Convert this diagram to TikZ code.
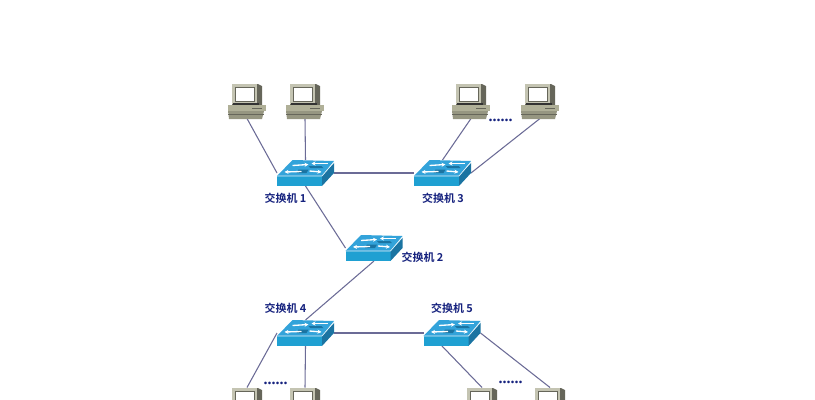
\documentclass[tikz,border=0pt]{standalone}
\usepackage{fontspec}
\usetikzlibrary{arrows.meta}
\newfontfamily\cjk{Noto Sans CJK SC}[BoldFont={Noto Sans CJK SC Bold}]
\setmainfont{Liberation Serif}
\definecolor{lbl}{HTML}{16227E}
\definecolor{wire}{HTML}{6B6B96}
\definecolor{swtop}{HTML}{33A3DA}
\definecolor{swfront}{HTML}{1FA0D2}
\definecolor{swside}{HTML}{1B74A2}
\definecolor{pcbody}{HTML}{B0B098}
\definecolor{pcdark}{HTML}{66665A}
\tikzset{
  x=0.75pt,y=-0.75pt,
  hub/.style={minimum width=42.75pt,minimum height=19.5pt,inner sep=0pt,outer sep=0pt},
  host/.style={minimum width=29.25pt,minimum height=26.25pt,inner sep=0pt,outer sep=0pt},
  wirel/.style={draw=wire,line width=0.8pt},
  lab/.style={text=lbl,font=\cjk\bfseries\fontsize{8.2pt}{9pt}\selectfont,inner sep=0pt},
  dots/.style={text=lbl,font=\bfseries\fontsize{12pt}{12pt}\selectfont,inner sep=0pt},
  flow/.style={white,line width=1pt,-{Stealth[length=3pt,width=3pt]}}
}
\newcommand{\hubdraw}[1]{%
  \begin{scope}[shift={(#1)}]
    \fill[swfront] (-28.5,3) -- (16.5,3) -- (16.5,13) -- (-28.5,13) -- cycle;
    \fill[swside] (16.5,3) -- (28.5,-10) -- (28.5,0) -- (16.5,13) -- cycle;
    \fill[swtop] (-28.5,3) -- (-13,-13) -- (28.5,-12) -- (16.5,3) -- cycle;
    \draw[white!85!swtop,line width=0.5pt] (-28.5,3) -- (16.5,3) -- (28.5,-11);
    \fill[swside] (-9,0) -- (1,0) -- (3,-3.5) -- (-7,-3.5) -- cycle;
    \fill[swside] (3,-7) -- (16,-7) -- (18,-5) -- (5,-5) -- cycle;
    \draw[flow] (-4,-1.5) -- (-21,-1);
    \draw[flow] (-13,-7.5) -- (3,-8.5);
    \draw[flow] (4,-2) -- (16,-1);
    \draw[flow] (22,-9.5) -- (6,-9.5);
  \end{scope}}
\newcommand{\hostdraw}[1]{%
  \begin{scope}[shift={(#1)}]
    \fill[pcdark] (-15,-17) -- (11,-17) -- (15,-15) -- (15,4) -- (-15,4) -- cycle;
    \fill[pcbody!75!white] (-15,-17) -- (10,-17) -- (10,3) -- (-15,3) -- cycle;
    \fill[white] (-12,-14) rectangle (7,0);
    \draw[pcdark,line width=0.7pt] (-12,-14) rectangle (7,0);
    \fill[black!80] (-14,1.5) rectangle (12,4);
    \fill[pcbody] (-19,4) -- (19,4) -- (19,10) -- (-19,10) -- cycle;
    \fill[pcdark] (5,6.5) rectangle (15,7.5);
    \fill[pcbody!85!black] (-19,10) -- (17,10) -- (15,18) -- (-18,18) -- cycle;
    \draw[pcdark,line width=0.5pt] (-19,13) -- (17,13);
  \end{scope}}
\begin{document}
\begin{tikzpicture}
\useasboundingbox (0,0) rectangle (815,400);
\clip (0,0) rectangle (815,400);
% anchors
\node[hub] (s1) at (305.5,173) {};
\node[hub] (s3) at (442.5,173) {};
\node[hub] (s2) at (374,248) {};
\node[hub] (s4) at (305.5,333) {};
\node[hub] (s5) at (452,333) {};
\node[host] (p1) at (247,101) {};
\node[host] (p2) at (305,101) {};
\node[host] (p3) at (471,101) {};
\node[host] (p4) at (540,101) {};
\node[host] (p5) at (247,405) {};
\node[host] (p6) at (305,405) {};
\node[host] (p7) at (482,405) {};
\node[host] (p8) at (550,405) {};
\coordinate (s5a) at (442,346);
% connectors
\path[wirel] (p1.south) -- (s1.west);
\path[wirel] (p2.south) -- (s1.north);
\path[wirel] (p3.south) -- (s3.north);
\path[wirel] (p4.south) -- (s3.east);
\path[wirel] (s1.east) -- (s3.west);
\path[wirel] (s1.south) -- (s2.west);
\path[wirel] (s2.south) -- (s4.north);
\path[wirel] (s4.east) -- (s5.west);
\path[wirel] (s4.west) -- (p5.north);
\path[wirel] (s4.south) -- (p6.north);
\path[wirel] (s5a) -- (p7.north);
\path[wirel] (s5.east) -- (p8.north);
% devices
\hubdraw{s1}\hubdraw{s2}\hubdraw{s3}\hubdraw{s4}\hubdraw{s5}
\hostdraw{p1}\hostdraw{p2}\hostdraw{p3}\hostdraw{p4}
\hostdraw{p5}\hostdraw{p6}\hostdraw{p7}\hostdraw{p8}
% labels
\node[lab] (l1) at (285.5,198) {交换机 1};
\node[lab] (l3) at (443,198) {交换机 3};
\node[lab] (l2) at (422.5,257) {交换机 2};
\node[lab] (l4) at (285.5,308) {交换机 4};
\node[lab] (l5) at (452,308) {交换机 5};
\node[dots] (d1) at (500.5,120) {......};
\node[dots] (d2) at (275.5,383) {......};
\node[dots] (d3) at (510.5,382) {......};
\end{tikzpicture}
\end{document}
